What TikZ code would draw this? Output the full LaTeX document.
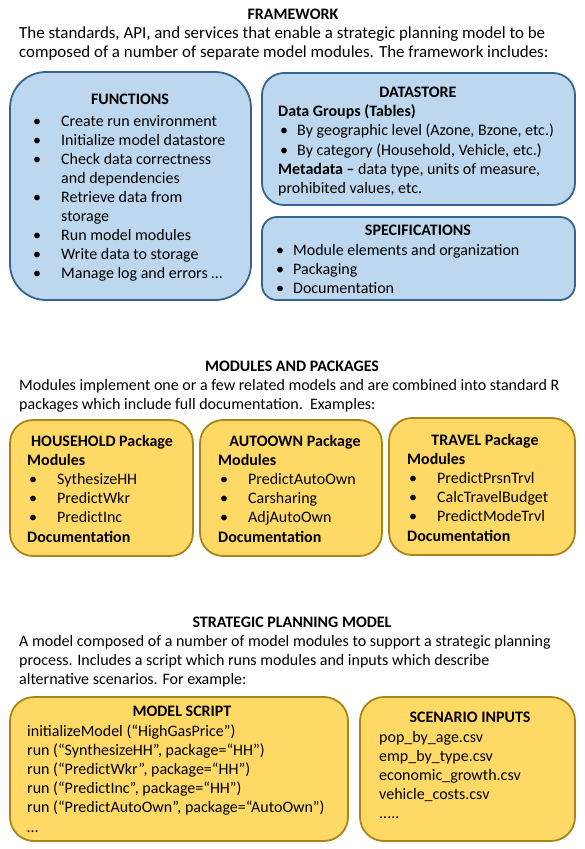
\documentclass[tikz,border=0pt]{standalone}
\usepackage{fontspec}
\setmainfont{Carlito}
\definecolor{bluefill}{HTML}{BDD7EE}
\definecolor{blueedge}{HTML}{35648F}
\definecolor{goldfill}{HTML}{FFD966}
\definecolor{goldedge}{HTML}{A8841A}
\newcommand\fivedots{.....}
\begin{document}
\begin{tikzpicture}[x=1pt,y=-1pt,
  txt/.style={font=\fontsize{16}{18}\selectfont, inner sep=0pt, anchor=base west},
  big/.style={txt, font=\fontsize{16.9}{19}\selectfont},
  ttl/.style={font=\fontsize{16}{18}\selectfont\bfseries, inner sep=0pt, anchor=base},
  hdr/.style={txt, font=\fontsize{16}{18}\selectfont\bfseries},
  bluebox/.style={draw=blueedge, fill=bluefill, line width=1.8pt},
  goldbox/.style={draw=goldedge, fill=goldfill, line width=1.8pt}]
\useasboundingbox (0,0) rectangle (584,849);

% ---------------- FRAMEWORK ----------------
\node[ttl] (fwtitle) at (293,19) {FRAMEWORK};
\node[big] (fwl1) at (19,38) {The standards, API, and services that enable a strategic planning model to be};
\node[big] (fwl2) at (19,57) {composed of a number of separate model modules. The framework includes:};

\path[bluebox, rounded corners=36] (10,72) rectangle (251,300);
\path[bluebox, rounded corners=22] (262,73) rectangle (575,205);
\path[bluebox, rounded corners=15] (262,217) rectangle (575,300);

% Functions
\node[ttl] (fntitle) at (130,104) {FUNCTIONS};
\foreach \b/\t [count=\i from 0] in {•/Create run environment, •/Initialize model datastore,
    •/Check data correctness, /and dependencies, •/Retrieve data from, /storage,
    •/Run model modules, •/Write data to storage, •/Manage log and errors …} {
  \node[txt] (fnb\i) at (33,126+19*\i) {\b};
  \node[txt] (fnt\i) at (61,126+19*\i) {\t};
}

% Datastore
\node[ttl] (dstitle) at (418,97) {DATASTORE};
\node[hdr] (dsgrp) at (278,116) {Data Groups (Tables)};
\node[txt] (dsb1) at (280,135) {•};
\node[txt] (dst1) at (297,135) {By geographic level (Azone, Bzone, etc.)};
\node[txt] (dsb2) at (280,155) {•};
\node[txt] (dst2) at (297,155) {By category (Household, Vehicle, etc.)};
\node[txt] (dsmeta) at (278,174) {\textbf{Metadata –} data type, units of measure,};
\node[txt] (dsmeta2) at (278,193) {prohibited values, etc.};

% Specifications
\node[ttl] (sptitle) at (418,235) {SPECIFICATIONS};
\foreach \t [count=\i from 0] in {Module elements and organization, Packaging, Documentation} {
  \node[txt] (spb\i) at (276,255+19.3*\i) {•};
  \node[txt] (spt\i) at (293,255+19.3*\i) {\t};
}

% ---------------- MODULES AND PACKAGES ----------------
\node[ttl] (mptitle) at (292,371) {MODULES AND PACKAGES};
\node[txt] (mpl1) at (19,390) {Modules implement one or a few related models and are combined into standard R};
\node[txt] (mpl2) at (19,409) {packages which include full documentation.\ \ Examples:};

\path[goldbox, rounded corners=23] (10,420) rectangle (193,556);
\path[goldbox, rounded corners=23] (200,420) rectangle (382,556);
\path[goldbox, rounded corners=23] (389,418) rectangle (575,555);

% Household package
\node[ttl] (hhtitle) at (102,446) {HOUSEHOLD Package};
\node[hdr] (hhmod) at (27,465) {Modules};
\foreach \t [count=\i from 0] in {SythesizeHH, PredictWkr, PredictInc} {
  \node[txt] (hhb\i) at (29,484+19.3*\i) {•};
  \node[txt] (hht\i) at (57,484+19.3*\i) {\t};
}
\node[hdr] (hhdoc) at (27,542) {Documentation};

% Autoown package
\node[ttl] (aotitle) at (295,446) {AUTOOWN Package};
\node[hdr] (aomod) at (218,465) {Modules};
\foreach \t [count=\i from 0] in {PredictAutoOwn, Carsharing, AdjAutoOwn} {
  \node[txt] (aob\i) at (220,484+19.3*\i) {•};
  \node[txt] (aot\i) at (248,484+19.3*\i) {\t};
}
\node[hdr] (aodoc) at (218,542) {Documentation};

% Travel package
\node[ttl] (trtitle) at (485,445) {TRAVEL Package};
\node[hdr] (trmod) at (407,464) {Modules};
\foreach \t [count=\i from 0] in {PredictPrsnTrvl, CalcTravelBudget, PredictModeTrvl} {
  \node[txt] (trb\i) at (409,483+19.3*\i) {•};
  \node[txt] (trt\i) at (437,483+19.3*\i) {\t};
}
\node[hdr] (trdoc) at (407,541) {Documentation};

% ---------------- STRATEGIC PLANNING MODEL ----------------
\node[ttl] (sptitle2) at (292,627) {STRATEGIC PLANNING MODEL};
\node[txt] (spml1) at (19,646) {A model composed of a number of model modules to support a strategic planning};
\node[txt] (spml2) at (19,665) {process. Includes a script which runs modules and inputs which describe};
\node[txt] (spml3) at (19,684) {alternative scenarios. For example:};

\path[goldbox, rounded corners=24] (10,697) rectangle (348,841);
\path[goldbox, rounded corners=24] (360,697) rectangle (575,841);

% Model script
\node[ttl] (mstitle) at (182,716) {MODEL SCRIPT};
\foreach \t [count=\i from 0] in {{initializeModel (“HighGasPrice”)},
    {run (“SynthesizeHH”, package=“HH”)}, {run (“PredictWkr”, package=“HH”)},
    {run (“PredictInc”, package=“HH”)}, {run (“PredictAutoOwn”, package=“AutoOwn”)}, …} {
  \node[txt] (msl\i) at (27,736+19.2*\i) {\t};
}

% Scenario inputs
\node[ttl] (sctitle) at (470,722) {SCENARIO INPUTS};
\foreach \t [count=\i from 0] in {pop\_by\_age.csv, emp\_by\_type.csv, economic\_growth.csv,
    vehicle\_costs.csv, \fivedots} {
  \node[txt] (scl\i) at (379,742+19.2*\i) {\t};
}
\end{tikzpicture}
\end{document}
